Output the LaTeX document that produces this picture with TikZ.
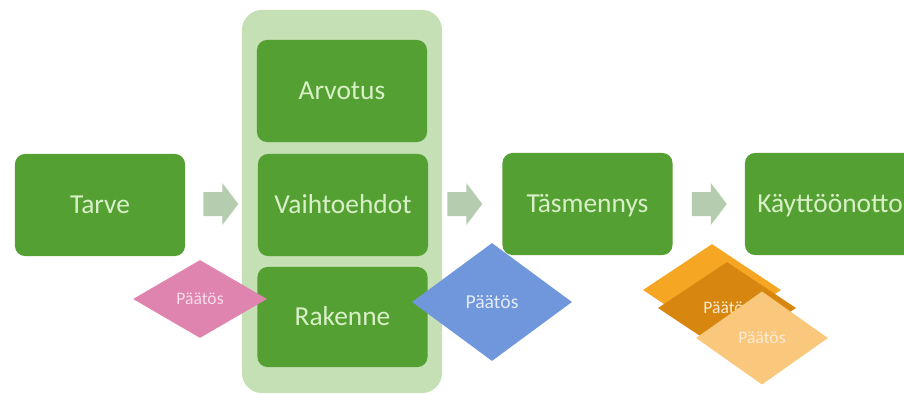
\documentclass[tikz,border=0pt]{standalone}
\usepackage{fontspec}
\setmainfont{Carlito}
\usetikzlibrary{calc,shapes.geometric}

\definecolor{boxgreen}{HTML}{55A032}
\definecolor{boxtext}{HTML}{D8F0C8}
\definecolor{groupgreen}{HTML}{C5E0B4}
\definecolor{arrowgray}{HTML}{B5CDAE}
\definecolor{pinkdec}{HTML}{DF84AF}
\definecolor{pinktext}{HTML}{F9DDEA}
\definecolor{bluedec}{HTML}{7096DC}
\definecolor{bluetext}{HTML}{E4ECFA}
\definecolor{orangedec}{HTML}{F5A623}
\definecolor{darkorange}{HTML}{D7870F}
\definecolor{lightorange}{HTML}{FAC87D}
\definecolor{orangetext}{HTML}{FCEBD3}

\tikzset{
  phase/.style={fill=boxgreen, rounded corners=0.25cm, inner sep=0pt,
    minimum width=4.25cm, minimum height=2.55cm, text=boxtext,
    text height=12.5pt, text depth=0pt,
    font=\fontsize{19.5}{23}\selectfont},
  stagegroup/.style={fill=groupgreen, rounded corners=0.5cm, inner sep=0pt,
    minimum width=5cm, minimum height=9.575cm},
  decision/.style={diamond, inner sep=0pt, font=\fontsize{12.5}{15}\selectfont},
  flowarrow/.style={fill=arrowgray}
}

\begin{document}
\begin{tikzpicture}[x=0.025cm,y=-0.025cm]
\useasboundingbox (0,0) rectangle (904,395);
\clip (0,0) rectangle (904,395);

% group of the middle phases
\node[stagegroup] (grp) at (342,201.5) {};

% phases
\node[phase] (tarve) at (100,205) {Tarve};
\node[phase] (arvo) at (342,91) {Arvotus};
\node[phase] (vaiht) at (343,205) {Vaihtoehdot};
\node[phase, minimum height=2.5cm] (rak) at (342.5,317) {Rakenne};
\node[phase] (tasm) at (587.5,204) {Täsmennys};
\node[phase] (kaytto) at (830,204) {Käyttöönotto};

% block arrows between phases
\foreach \from/\gap in {tarve/0.45cm, grp/0.125cm, tasm/0.475cm}
  \fill[flowarrow] ($(\from.east |- tasm.east)+(\gap,0)$) ++(0,-12)
    -- ++(19,0) -- ++(0,-9) -- ++(16,21) -- ++(-16,21) -- ++(0,-9)
    -- ++(-19,0) -- cycle;

% decisions
\node[decision, fill=pinkdec, text=pinktext,
  minimum width=3.35cm, minimum height=1.95cm] (dec1) at (200,299) {Päätös};
\node[decision, fill=bluedec, text=bluetext, font=\fontsize{14}{17}\selectfont,
  minimum width=4cm, minimum height=2.95cm] (dec2) at (492,302) {Päätös};
\node[decision, fill=orangedec,
  minimum width=3.45cm, minimum height=2.3cm] (dec3) at (712,290) {};
\node[decision, fill=darkorange, text=orangetext,
  minimum width=3.45cm, minimum height=2.3cm] (dec4) at (727,308) {Päätös};
\node[decision, fill=lightorange, text=orangetext,
  minimum width=3.3cm, minimum height=2.33cm] (dec5) at (762,338) {Päätös};
\end{tikzpicture}
\end{document}
